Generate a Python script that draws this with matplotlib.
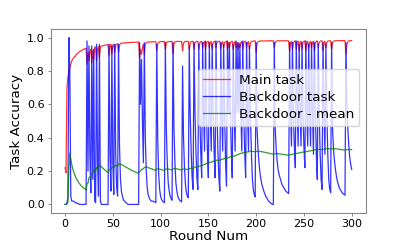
import numpy as np
import matplotlib
matplotlib.use('Agg')
import matplotlib.pyplot as plt

# backdoor accuracy per round (0..300)
backdoor = [
    0.0, 0.0, 0.01, 0.04, 1.0, 0.8, 0.05, 0.02, 0.02, 0.02,
    0.015, 0.01, 0.01, 0.005, 0.005, 0.0, 0.0, 0.0, 0.0, 0.0,
    0.0, 0.0, 0.0, 0.98, 0.2, 0.95, 0.3, 0.07, 0.95, 0.15,
    0.93, 0.02, 0.01, 0.96, 0.25, 0.05, 0.96, 0.02, 0.0, 0.0,
    0.0, 0.0, 0.0, 0.0, 0.0, 0.0, 0.96, 0.3, 0.08, 0.95,
    0.25, 0.06, 0.96, 0.3, 0.1, 0.05, 0.96, 0.35, 0.15, 0.08,
    0.05, 0.03, 0.02, 0.015, 0.01, 0.005, 0.0, 0.0, 0.0, 0.0,
    0.0, 0.0, 0.0, 0.0, 0.0, 0.0, 0.0, 0.0, 0.97, 0.6,
    0.87, 0.5, 0.25, 0.97, 0.4, 0.2, 0.1, 0.06, 0.04, 0.03,
    0.02, 0.02, 0.02, 0.015, 0.015, 0.01, 0.96, 0.4, 0.18, 0.09,
    0.05, 0.03, 0.02, 0.015, 0.01, 0.97, 0.45, 0.25, 0.13, 0.08,
    0.05, 0.035, 0.025, 0.97, 0.45, 0.25, 0.13, 0.08, 0.05, 0.035,
    0.025, 0.02, 0.015, 0.83, 0.4, 0.22, 0.12, 0.07, 0.05, 0.04,
    0.95, 0.55, 0.32, 0.16, 0.09, 0.97, 0.55, 0.32, 0.16, 0.09,
    0.96, 0.55, 0.32, 0.16, 0.97, 0.55, 0.32, 0.98, 0.55, 0.32,
    0.16, 0.97, 0.55, 0.32, 0.96, 0.55, 0.32, 0.16, 0.98, 0.55,
    0.32, 0.16, 0.08, 0.97, 0.55, 0.32, 0.96, 0.55, 0.25, 0.11,
    0.98, 0.55, 0.97, 0.55, 0.32, 0.16, 0.96, 0.55, 0.32, 0.98,
    0.55, 0.97, 0.55, 0.96, 0.55, 0.32, 0.98, 0.55, 0.32, 0.16,
    0.97, 0.55, 0.32, 0.95, 0.55, 0.32, 0.16, 0.09, 0.06, 0.045,
    0.97, 0.45, 0.33, 0.25, 0.19, 0.15, 0.12, 0.10, 0.08, 0.065,
    0.05, 0.04, 0.03, 0.02, 0.015, 0.01, 0.005, 0.0, 0.0, 0.97,
    0.45, 0.33, 0.26, 0.21, 0.18, 0.16, 0.14, 0.12, 0.11, 0.10,
    0.09, 0.08, 0.075, 0.07, 0.065, 0.97, 0.55, 0.35, 0.97, 0.55,
    0.35, 0.22, 0.98, 0.55, 0.35, 0.96, 0.55, 0.35, 0.97, 0.55,
    0.35, 0.22, 0.98, 0.55, 0.35, 0.96, 0.55, 0.35, 0.97, 0.55,
    0.3, 0.97, 0.55, 0.3, 0.15, 0.96, 0.55, 0.3, 0.15, 0.09,
    0.97, 0.55, 0.3, 0.96, 0.55, 0.3, 0.15, 0.09, 0.07, 0.97,
    0.45, 0.33, 0.26, 0.21, 0.17, 0.14, 0.12, 0.10, 0.09, 0.08,
    0.07, 0.065, 0.06, 0.055, 0.97, 0.6, 0.45, 0.35, 0.28, 0.24,
    0.21,
]

# main task accuracy per round (0..300)
main_task = [
    0.22, 0.19, 0.70, 0.76, 0.80, 0.82, 0.84, 0.86, 0.87, 0.88,
    0.885, 0.89, 0.90, 0.905, 0.91, 0.915, 0.92, 0.92, 0.925, 0.93,
    0.93, 0.935, 0.935, 0.84, 0.91, 0.86, 0.92, 0.93, 0.85, 0.92,
    0.87, 0.94, 0.945, 0.86, 0.93, 0.945, 0.88, 0.945, 0.95, 0.95,
    0.952, 0.954, 0.955, 0.956, 0.957, 0.958, 0.89, 0.95, 0.96, 0.9,
    0.955, 0.96, 0.91, 0.955, 0.962, 0.963, 0.91, 0.955, 0.965, 0.966,
    0.967, 0.968, 0.968, 0.969, 0.969, 0.97, 0.97, 0.97, 0.971, 0.971,
    0.971, 0.972, 0.972, 0.972, 0.972, 0.973, 0.973, 0.973, 0.88, 0.93,
    0.9, 0.94, 0.96, 0.9, 0.96, 0.97, 0.972, 0.973, 0.974, 0.974,
    0.974, 0.975, 0.975, 0.975, 0.975, 0.975, 0.92, 0.965, 0.972, 0.975,
    0.976, 0.976, 0.976, 0.976, 0.976, 0.93, 0.968, 0.974, 0.976, 0.976,
    0.977, 0.977, 0.977, 0.9, 0.965, 0.974, 0.976, 0.977, 0.977, 0.977,
    0.977, 0.977, 0.977, 0.92, 0.968, 0.975, 0.977, 0.977, 0.977, 0.977,
    0.93, 0.97, 0.976, 0.977, 0.978, 0.93, 0.97, 0.976, 0.977, 0.978,
    0.93, 0.97, 0.976, 0.977, 0.94, 0.972, 0.976, 0.93, 0.97, 0.976,
    0.977, 0.94, 0.972, 0.976, 0.93, 0.97, 0.976, 0.978, 0.94, 0.972,
    0.976, 0.978, 0.978, 0.93, 0.97, 0.976, 0.94, 0.97, 0.976, 0.978,
    0.93, 0.97, 0.94, 0.97, 0.976, 0.978, 0.93, 0.97, 0.976, 0.94,
    0.97, 0.93, 0.97, 0.94, 0.972, 0.976, 0.93, 0.97, 0.976, 0.978,
    0.94, 0.97, 0.976, 0.93, 0.97, 0.976, 0.978, 0.979, 0.98, 0.98,
    0.91, 0.965, 0.975, 0.978, 0.98, 0.98, 0.98, 0.98, 0.98, 0.98,
    0.98, 0.98, 0.981, 0.981, 0.981, 0.981, 0.981, 0.981, 0.981, 0.94,
    0.972, 0.978, 0.98, 0.981, 0.981, 0.981, 0.981, 0.981, 0.981, 0.981,
    0.981, 0.981, 0.981, 0.981, 0.981, 0.92, 0.97, 0.978, 0.93, 0.97,
    0.978, 0.98, 0.93, 0.97, 0.978, 0.92, 0.97, 0.978, 0.93, 0.97,
    0.978, 0.98, 0.92, 0.97, 0.978, 0.93, 0.97, 0.978, 0.94, 0.972,
    0.978, 0.92, 0.97, 0.978, 0.98, 0.94, 0.972, 0.978, 0.98, 0.981,
    0.92, 0.97, 0.978, 0.94, 0.972, 0.978, 0.98, 0.981, 0.981, 0.93,
    0.972, 0.978, 0.98, 0.981, 0.982, 0.982, 0.982, 0.982, 0.982, 0.982,
    0.982, 0.982, 0.982, 0.982, 0.9, 0.96, 0.975, 0.98, 0.981, 0.982,
    0.982,
]

rounds = np.arange(len(backdoor))
# running mean of the backdoor accuracy
backdoor_mean = np.cumsum(backdoor) / np.arange(1, len(backdoor) + 1)

fig = plt.figure(figsize=(4.07, 2.44), dpi=100)
ax = fig.add_axes([0.1246, 0.128, 0.7747, 0.752])

ax.plot(rounds, main_task, color='red', lw=0.9, alpha=0.8, label='Main task')
ax.plot(rounds, backdoor, color='blue', lw=0.9, alpha=0.8, label='Backdoor task')
ax.plot(rounds, backdoor_mean, color='green', lw=0.9, alpha=0.8, label='Backdoor - mean')

ax.set_xticks([0, 50, 100, 150, 200, 250, 300])
ax.set_yticks([0.0, 0.2, 0.4, 0.6, 0.8, 1.0])
ax.tick_params(labelsize=8, length=2.5, width=0.6, color='#777777', pad=2)
for s in ax.spines.values():
    s.set_color('#888888')
    s.set_linewidth(0.8)

ax.set_xlabel('Round Num', fontsize=9.7, labelpad=1)
ax.set_ylabel('Task Accuracy', fontsize=9.7, labelpad=3)
ax.legend(loc='upper right', bbox_to_anchor=(1, 0.82), fontsize=9.7,
          handlelength=2, labelspacing=0.3, borderpad=0.35, handletextpad=0.7)

plt.savefig('out.png', dpi=100)
